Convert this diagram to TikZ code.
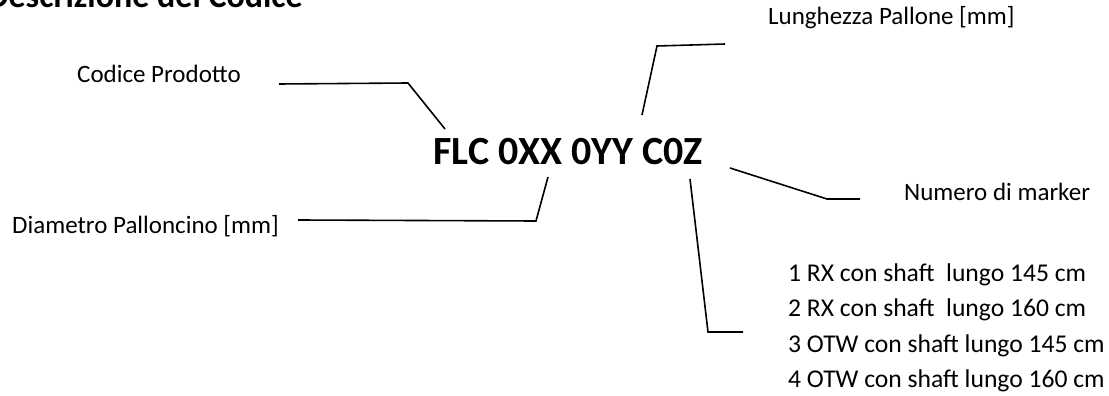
\documentclass[tikz,border=0pt]{standalone}
\usepackage{fontspec}
\setmainfont{Carlito}
\usetikzlibrary{positioning}

\begin{document}
\begin{tikzpicture}[x=1pt,y=-1pt,
  lbl/.style={inner sep=0pt,anchor=base west,font=\fontsize{25}{25}\selectfont},
  lista/.style={lbl,font=\fontsize{25.6}{25.6}\selectfont},
  lead/.style={draw,line width=1.6pt,line join=miter}]
\useasboundingbox (0,0) rectangle (1109,396);
\clip (0,0) rectangle (1109,396);
% titolo (tagliato in alto)
\node[inner sep=0pt,anchor=base east,font=\fontsize{34}{34}\selectfont\bfseries] (titolo) at (303,8) {Descrizione del Codice};
% codice
\node[inner sep=0pt,anchor=base west,font=\fontsize{40}{40}\selectfont\bfseries] (codice) at (433,164) {FLC 0XX 0YY C0Z};
% etichette
\node[lbl] (prodotto) at (77,83) {Codice Prodotto};
\node[lbl] (lunghezza) at (768,25) {Lunghezza Pallone [mm]};
\node[lbl] (diametro) at (12,233) {Diametro Palloncino [mm]};
\node[lbl] (marker) at (904,200) {Numero di marker};
\node[lista] (shaft1) at (788,281) {1 RX con shaft\ \ lungo 145 cm};
\node[lista] (shaft2) at (788,316) {2 RX con shaft\ \ lungo 160 cm};
\node[lista] (shaft3) at (788,352) {3 OTW con shaft lungo 145 cm};
\node[lista] (shaft4) at (788,387) {4 OTW con shaft lungo 160 cm};
% punti delle linee
\coordinate (p1) at (279,84);
\coordinate (p2) at (408,83);
\coordinate (p3) at (445,129);
\coordinate (l1) at (642,115);
\coordinate (l2) at (657,46);
\coordinate (l3) at (725,44);
\coordinate (d1) at (548,177);
\coordinate (d2) at (536,221);
\coordinate (d3) at (298,220);
\coordinate (m1) at (730,168);
\coordinate (m2) at (827,199);
\coordinate (m3) at (860,199);
\coordinate (s1) at (690,179);
\coordinate (s2) at (708,332);
\coordinate (s3) at (743,332);
% linee
\path[lead] (p1) -- (p2) -- (p3);
\path[lead] (l1) -- (l2) -- (l3);
\path[lead] (d1) -- (d2) -- (d3);
\path[lead] (m1) -- (m2) -- (m3);
\path[lead] (s1) -- (s2) -- (s3);
\end{tikzpicture}
\end{document}
